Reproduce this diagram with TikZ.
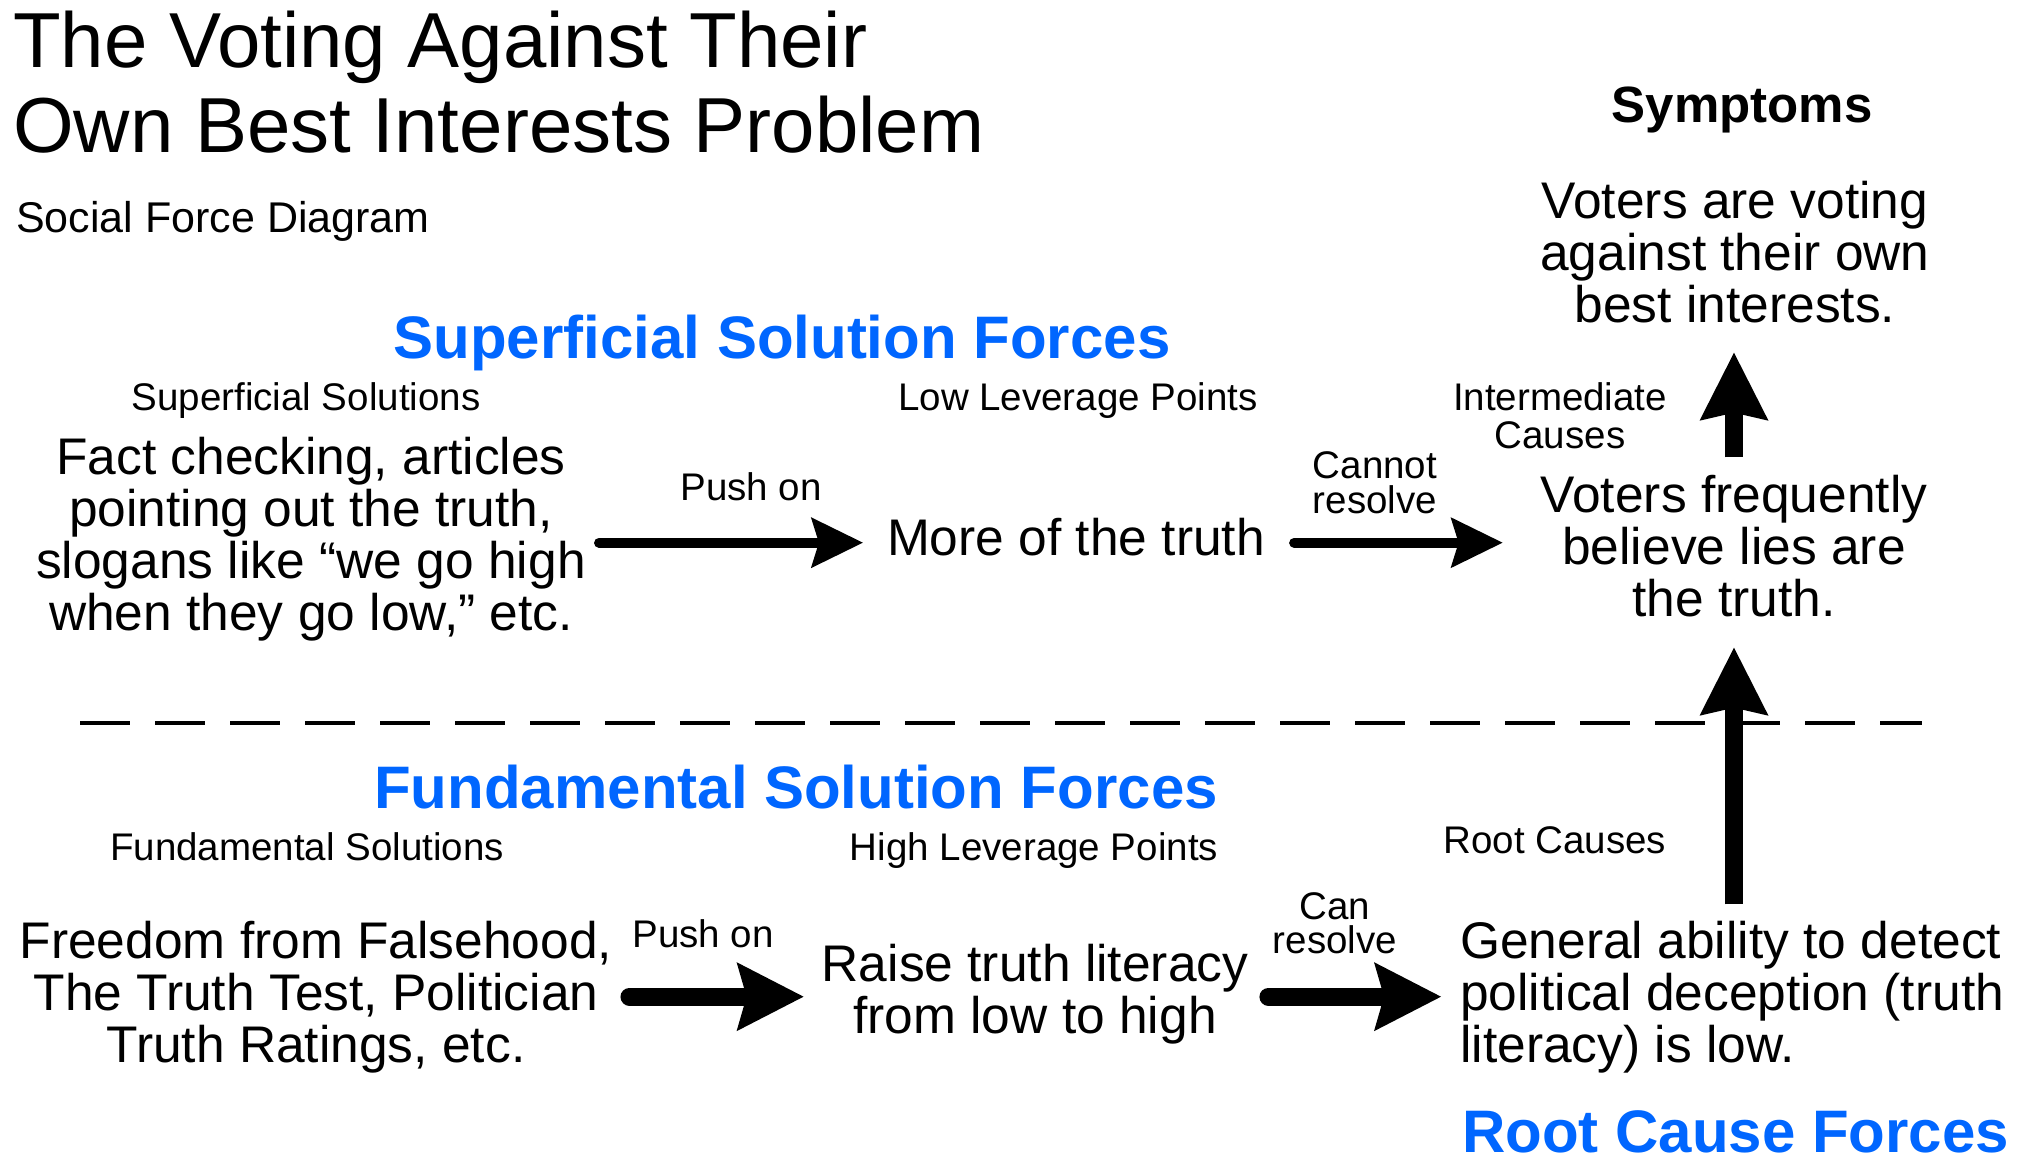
\documentclass[tikz,border=0pt]{standalone}
\usepackage{fontspec}
\setmainfont{Liberation Sans}
\usetikzlibrary{arrows.meta}
\definecolor{forceblue}{RGB}{0,102,255}

\begin{document}
\begin{tikzpicture}[
    x=1pt, y=-1pt,
    big/.style={font=\fontsize{51.5}{52}\selectfont, inner sep=0pt, align=center, anchor=base},
    lbl/.style={font=\fontsize{38.5}{36}\selectfont, inner sep=0pt, align=center, anchor=base},
    head/.style={font=\fontsize{60}{60}\selectfont\bfseries, text=forceblue, inner sep=0pt, anchor=base},
    forcearrow/.style={line width=10pt, line cap=round, -{Stealth[length=52pt, width=51pt, inset=8pt, line width=0pt]}},
    strongarrow/.style={line width=18pt, line cap=round, -{Stealth[length=67pt, width=69pt, inset=10pt, line width=0pt]}},
    uparrow/.style={line width=18pt, -{Stealth[length=68pt, width=69pt, inset=8pt, line width=0pt]}}
]
    \useasboundingbox (0,0) rectangle (2019,1164);

    % multi-line nodes sit on the baseline of their last line
    \node[anchor=base west, align=left, inner sep=0pt, font=\fontsize{78}{85}\selectfont] (title) at (13,152) {The Voting Against Their\\Own Best Interests Problem};
    \node[anchor=base west, inner sep=0pt, font=\fontsize{43}{48}\selectfont] (sub) at (16,232) {Social Force Diagram};

    \node[big, font=\fontsize{51}{52}\selectfont\bfseries] (symhead) at (1742,122) {Symptoms};
    \node[big] (sym) at (1735,322) {Voters are voting\\against their own\\best interests.};

    \node[head] (suphead) at (782,358) {Superficial Solution Forces};
    \node[lbl] (suplbl) at (306,410) {Superficial Solutions};
    \node[lbl] (lowlbl) at (1078,410) {Low Leverage Points};
    \node[lbl, font=\fontsize{38.5}{38}\selectfont] (intlbl) at (1560,448) {Intermediate\\Causes};
    \node[big] (fact) at (311,630) {Fact checking, articles\\pointing out the truth,\\slogans like “we go high\\when they go low,” etc.};
    \node[lbl] (push1) at (751,500) {Push on};
    \node[big] (more) at (1076,555) {More of the truth};
    \node[lbl, font=\fontsize{38.5}{35}\selectfont] (cannot) at (1375,513) {Cannot\\resolve};
    \node[big] (freq) at (1734,616) {Voters frequently\\believe lies are\\the truth.};

    \draw[line width=4.5pt, dash pattern=on 50pt off 25pt] (80,723) -- (1922,723);

    \node[head] (fundhead) at (796,808) {Fundamental Solution Forces};
    \node[lbl] (fundlbl) at (307,860) {Fundamental Solutions};
    \node[lbl] (highlbl) at (1034,860) {High Leverage Points};
    \node[lbl] (rootlbl) at (1555,853) {Root Causes};
    \node[big] (freedom) at (316,1062) {Freedom from Falsehood,\\The Truth Test, Politician\\Truth Ratings, etc.};
    \node[lbl] (push2) at (703,947) {Push on};
    \node[big] (raise) at (1035,1033) {Raise truth literacy\\from low to high};
    \node[lbl, font=\fontsize{38.5}{34}\selectfont] (canres) at (1335,953) {Can\\resolve};
    \node[big, anchor=base west, align=left] (general) at (1460,1062) {General ability to detect\\political deception (truth\\literacy) is low.};
    \node[head, anchor=base west] (roothead) at (1462,1152) {Root Cause Forces};

    \draw[forcearrow, shorten <=13pt, shorten >=24pt] ([yshift=-4pt]fact.east) -- ([yshift=-4pt]fact.east -| more.west);
    \draw[forcearrow, shorten <=29pt, shorten >=38pt] ([yshift=-4pt]fact.east -| more.east) -- ([yshift=-4pt]fact.east -| freq.west);

    \draw[strongarrow, shorten <=17pt, shorten >=18pt] (freedom.east) -- (freedom.east -| raise.west);
    \draw[strongarrow, shorten <=20pt, shorten >=19pt] (freedom.east -| raise.east) -- (freedom.east -| general.west);

    % upward forces
    \draw[uparrow, shorten <=16pt, shorten >=31pt] (general.north -| freq.south) -- (freq.south);
    \draw[uparrow, shorten <=17pt, shorten >=30pt] (freq.north) -- (freq.north |- sym.south);

\end{tikzpicture}
\end{document}
